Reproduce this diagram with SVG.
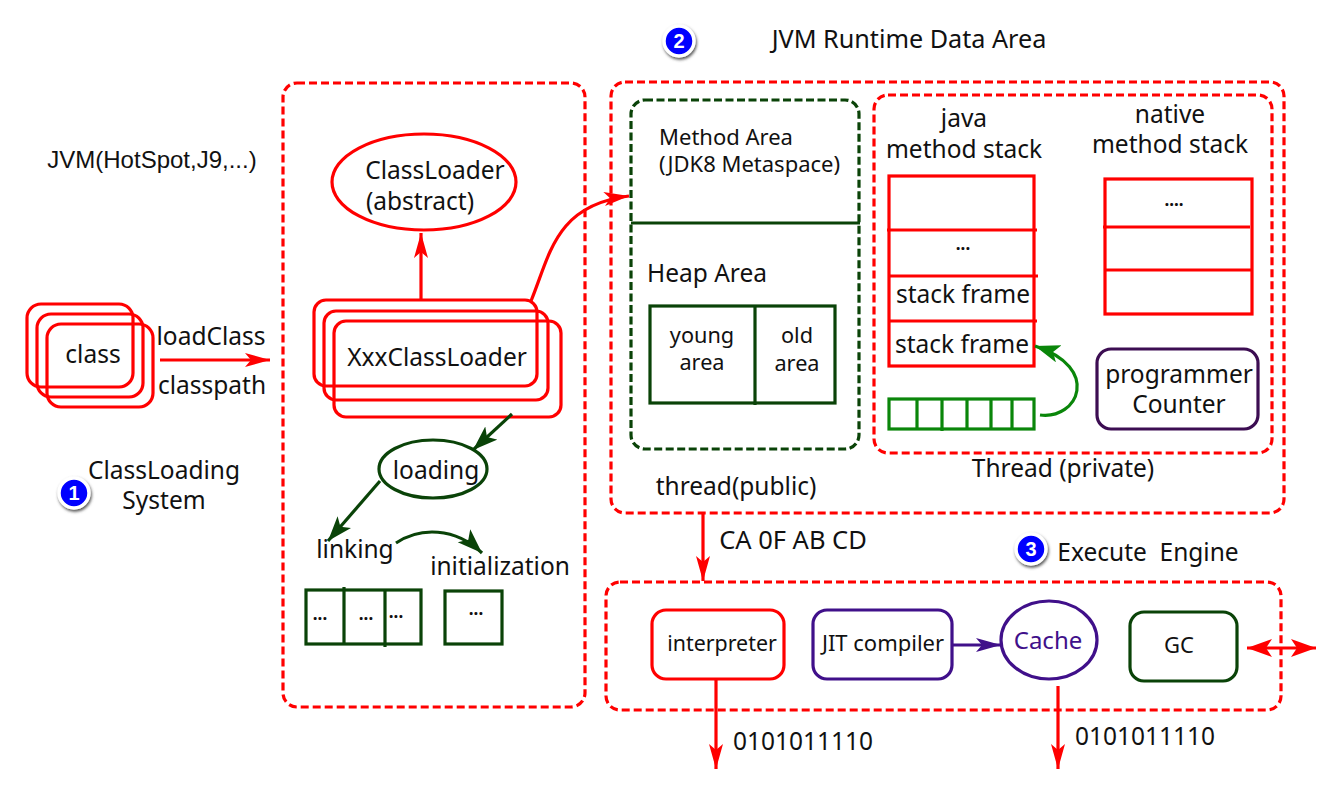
<svg xmlns="http://www.w3.org/2000/svg" width="1323" height="799" viewBox="0 0 1323 799">
<style>
text{font-family:"Noto Sans","Open Sans",sans-serif;fill:#111;text-anchor:middle;font-size:24.5px;white-space:pre}
.s{font-size:21.7px}
.d{font-size:17px;font-weight:bold}
.r{fill:none;stroke:#f00;stroke-width:3.2}
.rd{fill:none;stroke:#f00;stroke-width:3.2;stroke-dasharray:8 4}
.g{fill:none;stroke:#0a4308;stroke-width:3.2}
.gd{fill:none;stroke:#0a4308;stroke-width:3.2;stroke-dasharray:8 3.5}
.lg{fill:none;stroke:#0a860a;stroke-width:3.2}
.p{fill:none;stroke:#40108a;stroke-width:3.2}
.badge{fill:#00f;stroke:#fff;stroke-width:3.5;filter:url(#sh)}
.bt{fill:#fff;font-weight:bold;font-size:20px;font-family:"Liberation Sans",sans-serif}
</style>
<defs>
<filter id="sh" x="-30%" y="-30%" width="170%" height="170%"><feDropShadow dx="1" dy="2" stdDeviation="1.5" flood-color="#555"/></filter>
<marker id="ar" markerUnits="userSpaceOnUse" markerWidth="28" markerHeight="16" refX="25" refY="7" orient="auto"><path d="M0 0L25 7L0 14L6 7Z" fill="#f00"/></marker>
<marker id="ars" markerUnits="userSpaceOnUse" markerWidth="28" markerHeight="20" refX="25" refY="9" orient="auto-start-reverse"><path d="M0 0L25 9L0 18L6 9Z" fill="#f00"/></marker>
<marker id="ag" markerUnits="userSpaceOnUse" markerWidth="28" markerHeight="20" refX="25" refY="9" orient="auto"><path d="M0 0L25 9L0 18L6 9Z" fill="#0a4308"/></marker>
<marker id="alg" markerUnits="userSpaceOnUse" markerWidth="28" markerHeight="20" refX="25" refY="9" orient="auto"><path d="M0 0L25 9L0 18L6 9Z" fill="#0a860a"/></marker>
<marker id="ap" markerUnits="userSpaceOnUse" markerWidth="28" markerHeight="16" refX="25" refY="7" orient="auto"><path d="M0 0L25 7L0 14L6 7Z" fill="#40108a"/></marker>
</defs>

<g id="labels">
<text x="152" y="168" style="font-family:'Liberation Sans',sans-serif;font-size:24px">JVM(HotSpot,J9,...)</text>
<text x="909" y="48" style="font-size:25.2px">JVM Runtime Data Area</text>
<text x="164" y="479">ClassLoading</text>
<text x="164" y="509">System</text>
<text x="211" y="345">loadClass</text>
<text x="212" y="394">classpath</text>
<text x="793" y="549" style="font-size:25.5px">CA 0F AB CD</text>
<text x="1148" y="561">Execute  Engine</text>
<text x="803" y="750">0101011110</text>
<text x="1145" y="745">0101011110</text>
<text x="736" y="495">thread(public)</text>
<text x="1063" y="477">Thread (private)</text>
</g>

<g id="badge1"><circle class="badge" cx="74" cy="493" r="15"/><text class="bt" x="74" y="500">1</text></g>
<g id="badge2"><circle class="badge" cx="679" cy="41" r="15"/><text class="bt" x="679" y="48">2</text></g>
<g id="badge3"><circle class="badge" cx="1031" cy="549" r="15"/><text class="bt" x="1031" y="556">3</text></g>

<g id="classloading-box"><rect class="rd" x="283" y="83" width="302" height="624" rx="14"/></g>
<g id="runtime-box"><rect class="rd" x="611" y="82" width="673" height="431" rx="14"/></g>
<g id="engine-box"><rect class="rd" x="606" y="582" width="675" height="128" rx="14"/></g>
<g id="thread-box"><rect class="rd" x="874" y="95" width="398" height="358" rx="14"/></g>

<g id="class">
<rect class="r" x="27" y="304" width="106" height="83" rx="14"/>
<rect class="r" x="37" y="314" width="106" height="83" rx="14"/>
<rect class="r" x="47" y="324" width="106" height="83" rx="14"/>
<text x="93" y="363">class</text>
</g>

<g id="classloader">
<ellipse class="r" cx="424" cy="182" rx="92" ry="48"/>
<text x="435" y="179">ClassLoader</text>
<text x="420" y="210">(abstract)</text>
</g>

<g id="xxxclassloader">
<rect class="r" x="314" y="300" width="223" height="86" rx="12"/>
<rect class="r" x="324" y="311" width="224" height="89" rx="12"/>
<rect class="r" x="334" y="321" width="227" height="96" rx="12"/>
<text x="437" y="366">XxxClassLoader</text>
</g>

<g id="loading">
<ellipse class="g" cx="433" cy="469" rx="54" ry="29"/>
<text x="436" y="479">loading</text>
</g>
<g id="linking"><text x="355" y="558">linking</text></g>
<g id="initialization"><text x="500" y="575">initialization</text></g>

<g id="linking-cells">
<rect class="g" x="306" y="590" width="115" height="54"/>
<path class="g" d="M344 587V644M385 590V647"/>
<text class="d" x="320" y="620">...</text>
<text class="d" x="366" y="620">...</text>
<text class="d" x="396" y="618">...</text>
</g>
<g id="init-cell">
<rect class="g" x="445" y="591" width="57" height="53"/>
<text class="d" x="476" y="615">...</text>
</g>

<g id="method-heap">
<rect class="gd" x="631" y="100" width="228" height="349" rx="14"/>
<path class="g" d="M631 223H860"/>
<text x="726" y="145" style="font-size:22px">Method Area</text>
<text x="749.500" y="172" style="font-size:22px">(JDK8 Metaspace)</text>
<text x="707" y="282">Heap Area</text>
</g>
<g id="heap-cells">
<rect class="g" x="650" y="306" width="185" height="97"/>
<path class="g" d="M755 306V405"/>
<text class="s" x="702" y="343">young</text>
<text class="s" x="702" y="370">area</text>
<text class="s" x="797" y="343">old</text>
<text class="s" x="797" y="371">area</text>
</g>

<g id="java-stack">
<text x="964" y="127">java</text>
<text x="964" y="158">method stack</text>
<rect class="r" x="889" y="176" width="145" height="190"/>
<path class="r" d="M887 230H1037M889 276H1038M889 321H1037"/>
<text class="d" x="963" y="250">...</text>
<text x="963" y="303">stack frame</text>
<text x="962" y="353">stack frame</text>
</g>
<g id="native-stack">
<text x="1170" y="123">native</text>
<text x="1170" y="153">method stack</text>
<rect class="r" x="1105" y="179" width="147" height="135"/>
<path class="r" d="M1103 227H1250M1105 270H1252"/>
<text class="d" x="1174" y="206">....</text>
</g>
<g id="counter">
<rect x="1097" y="349" width="161" height="80" rx="14" style="fill:none;stroke:#3c0d52;stroke-width:3.2"/>
<text x="1179" y="383">programmer</text>
<text x="1179" y="413">Counter</text>
</g>
<g id="thread-cells">
<rect class="lg" x="889" y="399" width="145" height="30"/>
<path class="lg" d="M917 399V429M942 399V431M967 399V429M991 399V429M1012 399V429"/>
</g>

<g id="interpreter"><rect class="r" x="652" y="610" width="132" height="69" rx="14"/><text x="722" y="651" style="font-size:21.4px">interpreter</text></g>
<g id="jit"><rect class="p" x="813" y="610" width="139" height="69" rx="14"/><text x="883" y="651" style="font-size:22px">JIT compiler</text></g>
<g id="cache"><ellipse class="p" cx="1049" cy="640" rx="48" ry="39"/><text x="1048" y="649" style="fill:#40108a;font-size:24px">Cache</text></g>
<g id="gc"><rect class="g" x="1130" y="612" width="107" height="69" rx="14"/><text x="1179" y="653" style="font-size:22px">GC</text></g>

<g id="connectors">
<path class="r" d="M160 360H270" marker-end="url(#ar)"/>
<path class="r" d="M421 299V233" marker-end="url(#ar)"/>
<path class="r" d="M531 301C550 255 555 205 629 196" marker-end="url(#ar)"/>
<path class="g" d="M512 414L473 450" marker-end="url(#ag)"/>
<path class="g" d="M380 481L328 541" marker-end="url(#ag)"/>
<path class="g" d="M396 543C420 527 455 527 482 553" marker-end="url(#ag)"/>
<path class="lg" d="M1040 415C1078 420 1102 368 1035 346" marker-end="url(#alg)"/>
<path class="r" d="M703 514V581" marker-end="url(#ar)"/>
<path class="p" d="M952 645H1001" marker-end="url(#ap)"/>
<path class="r" d="M716 680V769" marker-end="url(#ar)"/>
<path class="r" d="M1058 686V769" marker-end="url(#ar)"/>
<path class="r" d="M1247 648H1316" marker-start="url(#ars)" marker-end="url(#ars)"/>
</g>
</svg>
